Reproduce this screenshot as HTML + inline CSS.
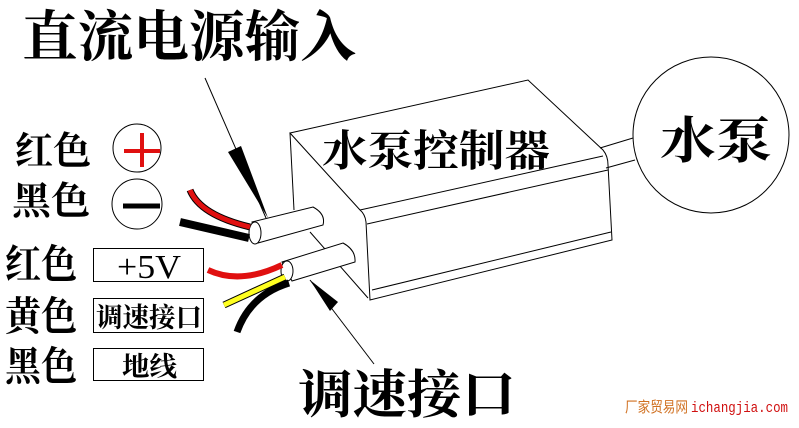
<!DOCTYPE html>
<html><head><meta charset="utf-8"><style>
html,body{margin:0;padding:0;background:#fff;}
svg{display:block}
text{font-family:"Liberation Serif","Noto Serif CJK SC",serif;fill:#000;font-weight:700}
</style></head><body>
<svg width="799" height="428" viewBox="0 0 799 428" xmlns="http://www.w3.org/2000/svg">
<rect width="799" height="428" fill="#fff"/>
<text x="22" y="56" font-size="55" textLength="334" lengthAdjust="spacingAndGlyphs">直流电源输入</text>
<line x1="205" y1="78" x2="266" y2="218" stroke="#000" stroke-width="1"/>
<polygon points="228,152 241,146 268,218" fill="#000"/>
<g fill="none" stroke="#000" stroke-width="1">
<path d="M290,133 L528,80 L603,150 Q608,156 608,165 L612,240 L370,300 L366,222 Q365,214 360,210 Z" fill="#fff"/>
<line x1="360" y1="210" x2="603" y2="156"/>
<line x1="367" y1="224" x2="608" y2="170"/>
<line x1="372" y1="290" x2="611" y2="232"/>
<line x1="290" y1="133" x2="294" y2="210"/>
<line x1="310" y1="232" x2="368" y2="298"/>
<line x1="600" y1="148" x2="633" y2="138"/>
<line x1="606" y1="168" x2="635" y2="160"/>
</g>
<text x="322" y="166" font-size="43" textLength="228" lengthAdjust="spacingAndGlyphs">水泵控制器</text>
<circle cx="711" cy="135" r="78" fill="#fff" stroke="#000" stroke-width="1"/>
<text x="660" y="158" font-size="50" textLength="112" lengthAdjust="spacingAndGlyphs">水泵</text>
<path d="M252,222 L313,207 Q326,214 323,225 L258,243 Z" fill="#fff" stroke="#000" stroke-width="1"/>
<ellipse cx="255" cy="233" rx="6" ry="11" fill="#fff" stroke="#000" stroke-width="1"/>
<path d="M190,190 Q200,215 250,227" fill="none" stroke="#000" stroke-width="7"/>
<path d="M190,190 Q200,215 250,227" fill="none" stroke="#e01010" stroke-width="5"/>
<line x1="180" y1="222" x2="249" y2="238" stroke="#000" stroke-width="8"/>
<path d="M282,262 L343,243 Q356,250 355,262 L292,281 Z" fill="#fff" stroke="#000" stroke-width="1"/>
<ellipse cx="287" cy="271" rx="6" ry="10" fill="#fff" stroke="#000" stroke-width="1"/>
<path d="M208,270 Q240,285 282,265" fill="none" stroke="#e01010" stroke-width="6"/>
<line x1="224" y1="305" x2="285" y2="277" stroke="#000" stroke-width="7"/>
<line x1="224" y1="305" x2="285" y2="277" stroke="#ffff20" stroke-width="5"/>
<path d="M237,332 Q250,295 289,283" fill="none" stroke="#000" stroke-width="7"/>
<line x1="310" y1="280" x2="374" y2="364" stroke="#000" stroke-width="1"/>
<polygon points="310,280 338,302 330,311" fill="#000"/>
<text x="298" y="413" font-size="52" textLength="218" lengthAdjust="spacingAndGlyphs">调速接口</text>
<text x="15" y="164" font-size="38" textLength="76" lengthAdjust="spacingAndGlyphs">红色</text>
<circle cx="137" cy="148" r="24" fill="#fff" stroke="#000" stroke-width="1"/>
<line x1="124" y1="151" x2="160" y2="151" stroke="#e01010" stroke-width="4"/>
<line x1="142" y1="133" x2="142" y2="167" stroke="#e01010" stroke-width="4"/>
<text x="12" y="214" font-size="38" textLength="78" lengthAdjust="spacingAndGlyphs">黑色</text>
<circle cx="137" cy="204" r="25" fill="#fff" stroke="#000" stroke-width="1"/>
<line x1="123" y1="206" x2="160" y2="206" stroke="#000" stroke-width="5"/>
<text x="5" y="278" font-size="40" textLength="72" lengthAdjust="spacingAndGlyphs">红色</text>
<rect x="93.5" y="248.5" width="110" height="33" fill="#fff" stroke="#000"/>
<text x="117" y="278" font-size="34" textLength="64" lengthAdjust="spacingAndGlyphs" style="font-weight:400">+5V</text>
<text x="5" y="330" font-size="40" textLength="72" lengthAdjust="spacingAndGlyphs">黄色</text>
<rect x="93.5" y="298.5" width="110" height="34" fill="#fff" stroke="#000"/>
<text x="96" y="327" font-size="27" textLength="106" lengthAdjust="spacingAndGlyphs">调速接口</text>
<text x="5" y="380" font-size="40" textLength="72" lengthAdjust="spacingAndGlyphs">黑色</text>
<rect x="93.5" y="348.5" width="110" height="32" fill="#fff" stroke="#000"/>
<text x="122" y="376" font-size="27" textLength="55" lengthAdjust="spacingAndGlyphs">地线</text>
<text x="625" y="412" font-size="15" style="fill:#d07020;font-weight:400;font-family:'Noto Sans CJK SC',sans-serif" textLength="63" lengthAdjust="spacingAndGlyphs">厂家贸易网</text>
<text x="691" y="412" font-size="15" style="fill:#d01010;font-weight:400;font-family:'Liberation Mono',monospace" textLength="97" lengthAdjust="spacingAndGlyphs">ichangjia.com</text>
</svg>
</body></html>
